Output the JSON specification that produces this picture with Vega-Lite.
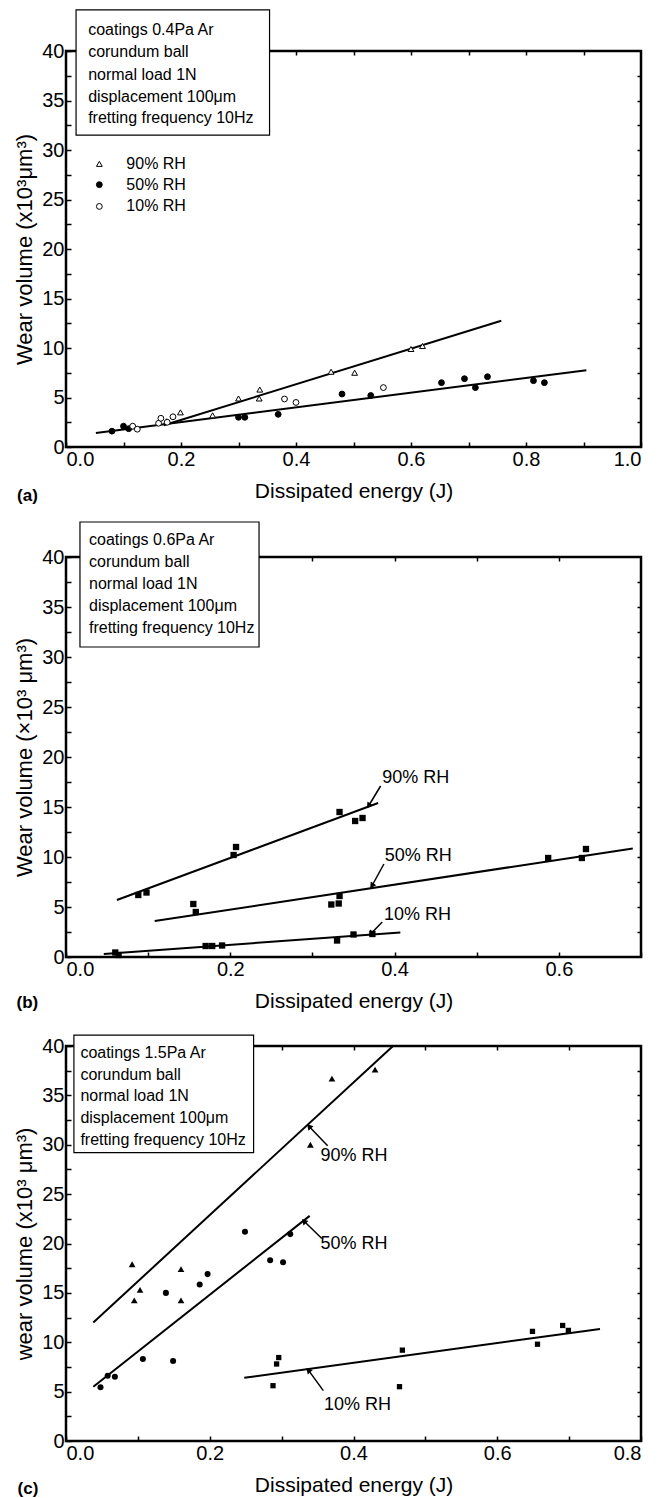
{
  "$schema": "https://vega.github.io/schema/vega-lite/v6.json",
  "background": "white",
  "padding": {"top": 8, "left": 12, "right": 5, "bottom": 3},
  "spacing": 15,
  "config": {
    "view": {"stroke": "black", "strokeWidth": 2.5},
    "font": "Liberation Sans",
    "axis": {
      "grid": false, "domain": false,
      "labelFont": "Liberation Sans", "labelFontSize": 20, "labelColor": "black",
      "titleFont": "Liberation Sans", "titleFontWeight": "normal", "titleColor": "black",
      "tickColor": "black", "tickWidth": 1.5
    },
    "axisX": {"titleFontSize": 21},
    "axisY": {"titleFontSize": 22},
    "text": {"font": "Liberation Sans", "color": "black"}
  },
  "resolve": {"scale": {"shape": "independent", "fill": "independent", "size": "independent"}},
  "datasets": {
    "a_points": [
      {"rh": "90% RH", "energy": 0.175, "wear": 2.6},
      {"rh": "90% RH", "energy": 0.199, "wear": 3.5},
      {"rh": "90% RH", "energy": 0.255, "wear": 3.2},
      {"rh": "90% RH", "energy": 0.300, "wear": 4.9},
      {"rh": "90% RH", "energy": 0.336, "wear": 4.9},
      {"rh": "90% RH", "energy": 0.337, "wear": 5.8},
      {"rh": "90% RH", "energy": 0.461, "wear": 7.6},
      {"rh": "90% RH", "energy": 0.502, "wear": 7.5},
      {"rh": "90% RH", "energy": 0.600, "wear": 9.9},
      {"rh": "90% RH", "energy": 0.620, "wear": 10.2},
      {"rh": "50% RH", "energy": 0.080, "wear": 1.6},
      {"rh": "50% RH", "energy": 0.100, "wear": 2.1},
      {"rh": "50% RH", "energy": 0.109, "wear": 1.85},
      {"rh": "50% RH", "energy": 0.300, "wear": 3.0},
      {"rh": "50% RH", "energy": 0.311, "wear": 3.0},
      {"rh": "50% RH", "energy": 0.369, "wear": 3.3},
      {"rh": "50% RH", "energy": 0.480, "wear": 5.35},
      {"rh": "50% RH", "energy": 0.530, "wear": 5.2},
      {"rh": "50% RH", "energy": 0.653, "wear": 6.5},
      {"rh": "50% RH", "energy": 0.693, "wear": 6.9},
      {"rh": "50% RH", "energy": 0.712, "wear": 6.0},
      {"rh": "50% RH", "energy": 0.733, "wear": 7.1},
      {"rh": "50% RH", "energy": 0.813, "wear": 6.7},
      {"rh": "50% RH", "energy": 0.832, "wear": 6.5},
      {"rh": "10% RH", "energy": 0.116, "wear": 2.1},
      {"rh": "10% RH", "energy": 0.124, "wear": 1.8},
      {"rh": "10% RH", "energy": 0.161, "wear": 2.4},
      {"rh": "10% RH", "energy": 0.165, "wear": 2.9},
      {"rh": "10% RH", "energy": 0.176, "wear": 2.5},
      {"rh": "10% RH", "energy": 0.186, "wear": 3.05},
      {"rh": "10% RH", "energy": 0.380, "wear": 4.85},
      {"rh": "10% RH", "energy": 0.400, "wear": 4.5},
      {"rh": "10% RH", "energy": 0.552, "wear": 6.0}
    ],
    "a_fits": [
      {"fit": "90% RH", "energy": 0.170, "wear": 2.2},
      {"fit": "90% RH", "energy": 0.757, "wear": 12.75},
      {"fit": "50% and 10% RH", "energy": 0.052, "wear": 1.42},
      {"fit": "50% and 10% RH", "energy": 0.905, "wear": 7.75}
    ],
    "a_box": [{"x1": 0.0175, "x2": 0.354, "y1": 31.5, "y2": 44.15}],
    "a_text": [
      {"line": "coatings 0.4Pa Ar", "energy": 0.0385, "wear": 42.1},
      {"line": "corundum ball", "energy": 0.0385, "wear": 39.9},
      {"line": "normal load 1N", "energy": 0.0385, "wear": 37.6},
      {"line": "displacement 100μm", "energy": 0.0385, "wear": 35.4},
      {"line": "fretting frequency 10Hz", "energy": 0.0385, "wear": 33.2}
    ],
    "a_legend": [
      {"rh": "90% RH", "energy": 0.058, "wear": 28.6},
      {"rh": "50% RH", "energy": 0.058, "wear": 26.5},
      {"rh": "10% RH", "energy": 0.058, "wear": 24.3}
    ],
    "a_tag": [{"tag": "(a)", "energy": -0.067, "wear": -4.9}],
    "b_points": [
      {"rh": "90% RH", "energy": 0.088, "wear": 6.2},
      {"rh": "90% RH", "energy": 0.098, "wear": 6.45},
      {"rh": "90% RH", "energy": 0.204, "wear": 10.2},
      {"rh": "90% RH", "energy": 0.207, "wear": 11.0},
      {"rh": "90% RH", "energy": 0.333, "wear": 14.5},
      {"rh": "90% RH", "energy": 0.352, "wear": 13.6},
      {"rh": "90% RH", "energy": 0.361, "wear": 13.9},
      {"rh": "50% RH", "energy": 0.155, "wear": 5.3},
      {"rh": "50% RH", "energy": 0.158, "wear": 4.5},
      {"rh": "50% RH", "energy": 0.323, "wear": 5.25},
      {"rh": "50% RH", "energy": 0.332, "wear": 5.35},
      {"rh": "50% RH", "energy": 0.333, "wear": 6.1},
      {"rh": "50% RH", "energy": 0.587, "wear": 9.9},
      {"rh": "50% RH", "energy": 0.628, "wear": 9.9},
      {"rh": "50% RH", "energy": 0.633, "wear": 10.8},
      {"rh": "10% RH", "energy": 0.060, "wear": 0.45},
      {"rh": "10% RH", "energy": 0.064, "wear": 0.2},
      {"rh": "10% RH", "energy": 0.170, "wear": 1.1},
      {"rh": "10% RH", "energy": 0.178, "wear": 1.1},
      {"rh": "10% RH", "energy": 0.190, "wear": 1.15},
      {"rh": "10% RH", "energy": 0.330, "wear": 1.65},
      {"rh": "10% RH", "energy": 0.350, "wear": 2.25},
      {"rh": "10% RH", "energy": 0.373, "wear": 2.3}
    ],
    "b_fits": [
      {"rh": "90% RH", "energy": 0.062, "wear": 5.7},
      {"rh": "90% RH", "energy": 0.380, "wear": 15.4},
      {"rh": "50% RH", "energy": 0.108, "wear": 3.6},
      {"rh": "50% RH", "energy": 0.690, "wear": 10.85},
      {"rh": "10% RH", "energy": 0.046, "wear": 0.3},
      {"rh": "10% RH", "energy": 0.407, "wear": 2.45}
    ],
    "b_arrows": [
      {"rh": "90% RH", "tail_e": 0.383, "tail_w": 17.1, "tip_e": 0.369, "tip_w": 15.2, "label_e": 0.385, "label_w": 17.9},
      {"rh": "50% RH", "tail_e": 0.387, "tail_w": 9.3, "tip_e": 0.373, "tip_w": 7.2, "label_e": 0.388, "label_w": 10.1},
      {"rh": "10% RH", "tail_e": 0.385, "tail_w": 3.5, "tip_e": 0.372, "tip_w": 2.4, "label_e": 0.387, "label_w": 4.2}
    ],
    "b_box": [{"x1": 0.017, "x2": 0.235, "y1": 31.0, "y2": 43.5}],
    "b_text": [
      {"line": "coatings 0.6Pa Ar", "energy": 0.028, "wear": 41.7},
      {"line": "corundum ball", "energy": 0.028, "wear": 39.5},
      {"line": "normal load 1N", "energy": 0.028, "wear": 37.3},
      {"line": "displacement 100μm", "energy": 0.028, "wear": 35.1},
      {"line": "fretting frequency 10Hz", "energy": 0.028, "wear": 32.9}
    ],
    "b_tag": [{"tag": "(b)", "energy": -0.047, "wear": -4.6}],
    "c_points": [
      {"rh": "90% RH", "energy": 0.092, "wear": 17.9},
      {"rh": "90% RH", "energy": 0.095, "wear": 14.25},
      {"rh": "90% RH", "energy": 0.103, "wear": 15.3},
      {"rh": "90% RH", "energy": 0.160, "wear": 17.4},
      {"rh": "90% RH", "energy": 0.160, "wear": 14.25},
      {"rh": "90% RH", "energy": 0.340, "wear": 30.0},
      {"rh": "90% RH", "energy": 0.370, "wear": 36.7},
      {"rh": "90% RH", "energy": 0.430, "wear": 37.6},
      {"rh": "50% RH", "energy": 0.048, "wear": 5.45},
      {"rh": "50% RH", "energy": 0.058, "wear": 6.6},
      {"rh": "50% RH", "energy": 0.068, "wear": 6.5},
      {"rh": "50% RH", "energy": 0.107, "wear": 8.3},
      {"rh": "50% RH", "energy": 0.149, "wear": 8.1},
      {"rh": "50% RH", "energy": 0.139, "wear": 15.0},
      {"rh": "50% RH", "energy": 0.186, "wear": 15.85},
      {"rh": "50% RH", "energy": 0.197, "wear": 16.9},
      {"rh": "50% RH", "energy": 0.249, "wear": 21.2},
      {"rh": "50% RH", "energy": 0.284, "wear": 18.3},
      {"rh": "50% RH", "energy": 0.302, "wear": 18.1},
      {"rh": "50% RH", "energy": 0.312, "wear": 20.95},
      {"rh": "10% RH", "energy": 0.288, "wear": 5.6},
      {"rh": "10% RH", "energy": 0.293, "wear": 7.8},
      {"rh": "10% RH", "energy": 0.296, "wear": 8.45},
      {"rh": "10% RH", "energy": 0.464, "wear": 5.5},
      {"rh": "10% RH", "energy": 0.468, "wear": 9.2},
      {"rh": "10% RH", "energy": 0.649, "wear": 11.1},
      {"rh": "10% RH", "energy": 0.656, "wear": 9.8},
      {"rh": "10% RH", "energy": 0.691, "wear": 11.7},
      {"rh": "10% RH", "energy": 0.699, "wear": 11.2}
    ],
    "c_fits": [
      {"rh": "90% RH", "energy": 0.038, "wear": 12.0},
      {"rh": "90% RH", "energy": 0.455, "wear": 40.0},
      {"rh": "50% RH", "energy": 0.038, "wear": 5.5},
      {"rh": "50% RH", "energy": 0.339, "wear": 22.8},
      {"rh": "10% RH", "energy": 0.248, "wear": 6.4},
      {"rh": "10% RH", "energy": 0.743, "wear": 11.35}
    ],
    "c_arrows": [
      {"rh": "90% RH", "tail_e": 0.364, "tail_w": 29.9, "tip_e": 0.339, "tip_w": 31.8, "label_e": 0.354, "label_w": 28.9},
      {"rh": "50% RH", "tail_e": 0.356, "tail_w": 20.5, "tip_e": 0.332, "tip_w": 22.2, "label_e": 0.354, "label_w": 20.0},
      {"rh": "10% RH", "tail_e": 0.358, "tail_w": 5.1, "tip_e": 0.338, "tip_w": 7.1, "label_e": 0.359, "label_w": 3.65}
    ],
    "c_box": [{"x1": 0.011, "x2": 0.261, "y1": 29.2, "y2": 41.1}],
    "c_text": [
      {"line": "coatings 1.5Pa Ar", "energy": 0.020, "wear": 39.3},
      {"line": "corundum ball", "energy": 0.020, "wear": 37.1},
      {"line": "normal load 1N", "energy": 0.020, "wear": 34.9},
      {"line": "displacement 100μm", "energy": 0.020, "wear": 32.7},
      {"line": "fretting frequency 10Hz", "energy": 0.020, "wear": 30.5}
    ],
    "c_tag": [{"tag": "(c)", "energy": -0.053, "wear": -4.85}]
  },
  "vconcat": [
    {
      "width": 575, "height": 396,
      "resolve": {"axis": {"x": "independent", "y": "independent"}},
      "layer": [
        {
          "data": {"name": "a_box"},
          "mark": {"type": "rect", "fill": "white", "stroke": "black", "strokeWidth": 1.2},
          "encoding": {
            "x": {"field": "x1", "type": "quantitative", "scale": {"domain": [0, 1], "nice": false}, "axis": null},
            "x2": {"field": "x2"},
            "y": {"field": "y1", "type": "quantitative", "scale": {"domain": [0, 40], "nice": false}, "axis": null},
            "y2": {"field": "y2"}
          }
        },
        {
          "data": {"name": "a_text"},
          "mark": {"type": "text", "align": "left", "baseline": "middle", "fontSize": 16},
          "encoding": {
            "x": {"field": "energy", "type": "quantitative", "axis": null},
            "y": {"field": "wear", "type": "quantitative", "axis": null},
            "text": {"field": "line"}
          }
        },
        {
          "data": {"name": "a_legend"},
          "mark": {"type": "point", "size": 34, "stroke": "black", "strokeWidth": 1, "opacity": 1},
          "encoding": {
            "x": {"field": "energy", "type": "quantitative", "axis": null},
            "y": {"field": "wear", "type": "quantitative", "axis": null},
            "shape": {"field": "rh", "type": "nominal", "scale": {"domain": ["90% RH", "50% RH", "10% RH"], "range": ["triangle-up", "circle", "circle"]}, "legend": null},
            "fill": {"field": "rh", "type": "nominal", "scale": {"domain": ["90% RH", "50% RH", "10% RH"], "range": ["white", "black", "white"]}, "legend": null}
          }
        },
        {
          "data": {"name": "a_legend"},
          "mark": {"type": "text", "align": "left", "baseline": "middle", "fontSize": 16, "dx": 27},
          "encoding": {
            "x": {"field": "energy", "type": "quantitative", "axis": null},
            "y": {"field": "wear", "type": "quantitative", "axis": null},
            "text": {"field": "rh"}
          }
        },
        {
          "data": {"name": "a_tag"},
          "mark": {"type": "text", "align": "center", "baseline": "middle", "fontSize": 17, "fontWeight": "bold"},
          "encoding": {
            "x": {"field": "energy", "type": "quantitative", "axis": null},
            "y": {"field": "wear", "type": "quantitative", "axis": null},
            "text": {"field": "tag"}
          }
        },
        {
          "data": {"name": "a_fits"},
          "mark": {"type": "line", "color": "black", "strokeWidth": 2},
          "encoding": {
            "x": {"field": "energy", "type": "quantitative",
              "axis": {"orient": "bottom", "title": "Dissipated energy (J)", "values": [0, 0.1, 0.2, 0.3, 0.4, 0.5, 0.6, 0.7, 0.8, 0.9, 1.0],
                "labelExpr": "round(datum.value*10) % 2 == 0 ? format(datum.value, '.1f') : ''",
                "tickSize": -5, "labelPadding": 7, "titlePadding": 11}},
            "y": {"field": "wear", "type": "quantitative",
              "axis": {"orient": "left", "title": "Wear volume (x10³μm³)", "values": [0, 2.5, 5, 7.5, 10, 12.5, 15, 17.5, 20, 22.5, 25, 27.5, 30, 32.5, 35, 37.5, 40],
                "labelExpr": "datum.value % 5 == 0 ? format(datum.value, 'd') : ''",
                "tickSize": -5, "labelPadding": 7, "titlePadding": 5}},
            "detail": {"field": "fit"}
          }
        },
        {
          "data": {"name": "a_points"},
          "mark": {"type": "point", "size": 34, "stroke": "black", "strokeWidth": 1, "opacity": 1},
          "encoding": {
            "x": {"field": "energy", "type": "quantitative",
              "axis": {"orient": "top", "title": null, "labels": false, "values": [0.1, 0.2, 0.3, 0.4, 0.5, 0.6, 0.7, 0.8, 0.9], "tickSize": -4}},
            "y": {"field": "wear", "type": "quantitative",
              "axis": {"orient": "right", "title": null, "labels": false, "values": [2.5, 5, 7.5, 10, 12.5, 15, 17.5, 20, 22.5, 25, 27.5, 30, 32.5, 35, 37.5], "tickSize": -4}},
            "shape": {"field": "rh", "type": "nominal", "legend": null},
            "fill": {"field": "rh", "type": "nominal", "legend": null}
          }
        }
      ]
    },
    {
      "bounds": "flush",
      "spacing": 89,
      "resolve": {"scale": {"shape": "independent", "size": "independent"}},
      "vconcat": [
        {
          "width": 575, "height": 400,
          "resolve": {"axis": {"x": "independent", "y": "independent"}},
          "layer": [
            {
              "data": {"name": "b_box"},
              "mark": {"type": "rect", "fill": "white", "stroke": "black", "strokeWidth": 1.2},
              "encoding": {
                "x": {"field": "x1", "type": "quantitative", "scale": {"domain": [0, 0.7], "nice": false}, "axis": null},
                "x2": {"field": "x2"},
                "y": {"field": "y1", "type": "quantitative", "scale": {"domain": [0, 40], "nice": false}, "axis": null},
                "y2": {"field": "y2"}
              }
            },
            {
              "data": {"name": "b_text"},
              "mark": {"type": "text", "align": "left", "baseline": "middle", "fontSize": 16},
              "encoding": {
                "x": {"field": "energy", "type": "quantitative", "axis": null},
                "y": {"field": "wear", "type": "quantitative", "axis": null},
                "text": {"field": "line"}
              }
            },
            {
              "data": {"name": "b_tag"},
              "mark": {"type": "text", "align": "center", "baseline": "middle", "fontSize": 17, "fontWeight": "bold"},
              "encoding": {
                "x": {"field": "energy", "type": "quantitative", "axis": null},
                "y": {"field": "wear", "type": "quantitative", "axis": null},
                "text": {"field": "tag"}
              }
            },
            {
              "data": {"name": "b_arrows"},
              "mark": {"type": "rule", "color": "black", "strokeWidth": 1.5},
              "encoding": {
                "x": {"field": "tail_e", "type": "quantitative", "axis": null},
                "y": {"field": "tail_w", "type": "quantitative", "axis": null},
                "x2": {"field": "tip_e"},
                "y2": {"field": "tip_w"}
              }
            },
            {
              "data": {"name": "b_arrows"},
              "mark": {"type": "point", "shape": "triangle", "angle": 215, "size": 45, "filled": true, "color": "black", "opacity": 1},
              "encoding": {
                "x": {"field": "tip_e", "type": "quantitative", "axis": null},
                "y": {"field": "tip_w", "type": "quantitative", "axis": null}
              }
            },
            {
              "data": {"name": "b_arrows"},
              "mark": {"type": "text", "align": "left", "baseline": "middle", "fontSize": 18},
              "encoding": {
                "x": {"field": "label_e", "type": "quantitative", "axis": null},
                "y": {"field": "label_w", "type": "quantitative", "axis": null},
                "text": {"field": "rh"}
              }
            },
            {
              "data": {"name": "b_fits"},
              "mark": {"type": "line", "color": "black", "strokeWidth": 2},
              "encoding": {
                "x": {"field": "energy", "type": "quantitative",
                  "axis": {"orient": "bottom", "title": "Dissipated energy (J)", "values": [0, 0.1, 0.2, 0.3, 0.4, 0.5, 0.6, 0.7],
                    "labelExpr": "round(datum.value*10) % 2 == 0 ? format(datum.value, '.1f') : ''",
                    "tickSize": -5, "labelPadding": 7, "titlePadding": 11}},
                "y": {"field": "wear", "type": "quantitative",
                  "axis": {"orient": "left", "title": "Wear volume (×10³ μm³)", "values": [0, 2.5, 5, 7.5, 10, 12.5, 15, 17.5, 20, 22.5, 25, 27.5, 30, 32.5, 35, 37.5, 40],
                    "labelExpr": "datum.value % 5 == 0 ? format(datum.value, 'd') : ''",
                    "tickSize": -5, "labelPadding": 7, "titlePadding": 5}},
                "detail": {"field": "rh"}
              }
            },
            {
              "data": {"name": "b_points"},
              "mark": {"type": "point", "shape": "square", "size": 40, "filled": true, "color": "black", "opacity": 1},
              "encoding": {
                "x": {"field": "energy", "type": "quantitative",
                  "axis": {"orient": "top", "title": null, "labels": false, "values": [0.1, 0.2, 0.3, 0.4, 0.5, 0.6], "tickSize": -4}},
                "y": {"field": "wear", "type": "quantitative",
                  "axis": {"orient": "right", "title": null, "labels": false, "values": [2.5, 5, 7.5, 10, 12.5, 15, 17.5, 20, 22.5, 25, 27.5, 30, 32.5, 35, 37.5], "tickSize": -4}},
                "detail": {"field": "rh"}
              }
            }
          ]
        },
        {
          "width": 575, "height": 395,
          "resolve": {"axis": {"x": "independent", "y": "independent"}},
          "layer": [
            {
              "data": {"name": "c_box"},
              "mark": {"type": "rect", "fill": "white", "stroke": "black", "strokeWidth": 1.2},
              "encoding": {
                "x": {"field": "x1", "type": "quantitative", "scale": {"domain": [0, 0.8], "nice": false}, "axis": null},
                "x2": {"field": "x2"},
                "y": {"field": "y1", "type": "quantitative", "scale": {"domain": [0, 40], "nice": false}, "axis": null},
                "y2": {"field": "y2"}
              }
            },
            {
              "data": {"name": "c_text"},
              "mark": {"type": "text", "align": "left", "baseline": "middle", "fontSize": 16},
              "encoding": {
                "x": {"field": "energy", "type": "quantitative", "axis": null},
                "y": {"field": "wear", "type": "quantitative", "axis": null},
                "text": {"field": "line"}
              }
            },
            {
              "data": {"name": "c_tag"},
              "mark": {"type": "text", "align": "center", "baseline": "middle", "fontSize": 17, "fontWeight": "bold"},
              "encoding": {
                "x": {"field": "energy", "type": "quantitative", "axis": null},
                "y": {"field": "wear", "type": "quantitative", "axis": null},
                "text": {"field": "tag"}
              }
            },
            {
              "data": {"name": "c_arrows"},
              "mark": {"type": "rule", "color": "black", "strokeWidth": 1.5},
              "encoding": {
                "x": {"field": "tail_e", "type": "quantitative", "axis": null},
                "y": {"field": "tail_w", "type": "quantitative", "axis": null},
                "x2": {"field": "tip_e"},
                "y2": {"field": "tip_w"}
              }
            },
            {
              "data": {"name": "c_arrows"},
              "mark": {"type": "point", "shape": "triangle", "angle": 318, "size": 45, "filled": true, "color": "black", "opacity": 1},
              "encoding": {
                "x": {"field": "tip_e", "type": "quantitative", "axis": null},
                "y": {"field": "tip_w", "type": "quantitative", "axis": null}
              }
            },
            {
              "data": {"name": "c_arrows"},
              "mark": {"type": "text", "align": "left", "baseline": "middle", "fontSize": 18},
              "encoding": {
                "x": {"field": "label_e", "type": "quantitative", "axis": null},
                "y": {"field": "label_w", "type": "quantitative", "axis": null},
                "text": {"field": "rh"}
              }
            },
            {
              "data": {"name": "c_fits"},
              "mark": {"type": "line", "color": "black", "strokeWidth": 2},
              "encoding": {
                "x": {"field": "energy", "type": "quantitative",
                  "axis": {"orient": "bottom", "title": "Dissipated energy (J)", "values": [0, 0.1, 0.2, 0.3, 0.4, 0.5, 0.6, 0.7, 0.8],
                    "labelExpr": "round(datum.value*10) % 2 == 0 ? format(datum.value, '.1f') : ''",
                    "tickSize": -5, "labelPadding": 7, "titlePadding": 11}},
                "y": {"field": "wear", "type": "quantitative",
                  "axis": {"orient": "left", "title": "wear volume (x10³ μm³)", "values": [0, 2.5, 5, 7.5, 10, 12.5, 15, 17.5, 20, 22.5, 25, 27.5, 30, 32.5, 35, 37.5, 40],
                    "labelExpr": "datum.value % 5 == 0 ? format(datum.value, 'd') : ''",
                    "tickSize": -5, "labelPadding": 7, "titlePadding": 5}},
                "detail": {"field": "rh"}
              }
            },
            {
              "data": {"name": "c_points"},
              "mark": {"type": "point", "filled": true, "color": "black", "opacity": 1},
              "encoding": {
                "x": {"field": "energy", "type": "quantitative",
                  "axis": {"orient": "top", "title": null, "labels": false, "values": [0.1, 0.2, 0.3, 0.4, 0.5, 0.6, 0.7], "tickSize": -4}},
                "y": {"field": "wear", "type": "quantitative",
                  "axis": {"orient": "right", "title": null, "labels": false, "values": [2.5, 5, 7.5, 10, 12.5, 15, 17.5, 20, 22.5, 25, 27.5, 30, 32.5, 35, 37.5], "tickSize": -4}},
                "shape": {"field": "rh", "type": "nominal", "scale": {"domain": ["90% RH", "50% RH", "10% RH"], "range": ["triangle-up", "circle", "square"]}, "legend": null},
                "size": {"field": "rh", "type": "nominal", "scale": {"domain": ["90% RH", "50% RH", "10% RH"], "range": [45, 28, 36]}, "legend": null}
              }
            }
          ]
        }
      ]
    }
  ]
}
